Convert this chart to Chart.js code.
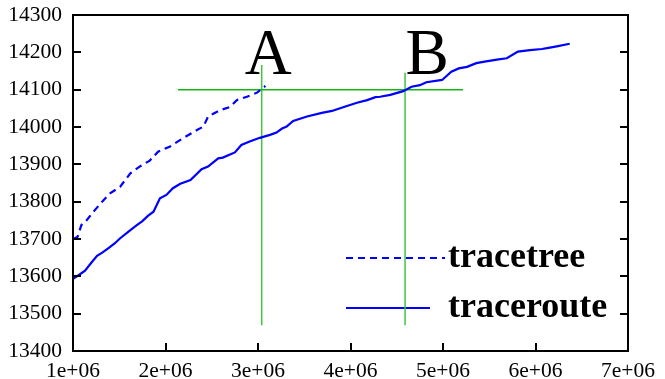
<!DOCTYPE html>
<html lang="en">
<head>
	<meta charset="UTF-8">
	<title>tracetree / traceroute</title>
	<script src="https://cdn.jsdelivr.net/npm/chart.js"></script>
	<style>
		html, body { margin: 0; padding: 0; background: #fff; }
	</style>
</head>
<body>
	<canvas id="myChart" width="665" height="379"></canvas>
	<script type="text/javascript">
		// tracetree (dashed), ends around 3e6
		const treeX = [1.00e6, 1.05e6, 1.09e6, 1.15e6, 1.22e6, 1.33e6, 1.40e6, 1.51e6, 1.62e6, 1.72e6, 1.83e6, 1.92e6,
			2.05e6, 2.19e6, 2.34e6, 2.41e6, 2.46e6, 2.59e6, 2.70e6, 2.77e6, 2.88e6, 2.99e6, 3.08e6];
		const treeY = [13699, 13706, 13737, 13751, 13773, 13804, 13822, 13840, 13876, 13894, 13910, 13934,
			13948, 13970, 13992, 14001, 14028, 14045, 14054, 14072, 14081, 14092, 14110];

		// traceroute (solid)
		const routeX = [1.00e6, 1.06e6, 1.13e6, 1.20e6, 1.26e6, 1.32e6, 1.38e6, 1.45e6, 1.51e6, 1.60e6, 1.69e6, 1.75e6,
			1.81e6, 1.87e6, 1.94e6, 2.01e6, 2.08e6, 2.16e6, 2.27e6, 2.39e6, 2.46e6, 2.57e6, 2.62e6, 2.75e6, 2.82e6,
			2.91e6, 3.02e6, 3.13e6, 3.20e6, 3.26e6, 3.31e6, 3.38e6, 3.53e6, 3.69e6, 3.80e6, 3.92e6, 4.07e6, 4.18e6,
			4.27e6, 4.32e6, 4.43e6, 4.57e6, 4.66e6, 4.75e6, 4.82e6, 4.99e6, 5.09e6, 5.17e6, 5.26e6, 5.36e6, 5.45e6,
			5.60e6, 5.69e6, 5.81e6, 5.94e6, 6.07e6, 6.14e6, 6.23e6, 6.37e6];
		const routeY = [13593, 13603, 13615, 13637, 13655, 13664, 13675, 13688, 13702, 13720, 13737, 13748,
			13762, 13773, 13809, 13818, 13836, 13848, 13858, 13887, 13894, 13916, 13918, 13932, 13952,
			13961, 13971, 13979, 13985, 13996, 14001, 14016, 14028, 14038, 14043, 14053, 14065, 14072,
			14080, 14081, 14086, 14096, 14108, 14112, 14120, 14126, 14148, 14157, 14161, 14171, 14175,
			14181, 14184, 14202, 14206, 14209, 14212, 14216, 14223];

		// green guide lines: the 14100 level and the two crossing points
		const levelY = 14100;
		const levelSpan = [2.135e6, 5.216e6];
		const cutX = [3.04e6, 4.59e6];
		const cutTop = [14166, 14145];
		const cutBottom = 13469;
		const cutNames = ['A', 'B'];
		const cutNameX = [3.11e6, 4.83e6];
		const cutNameY = 14142;

		// axes
		const xTicks = [1e6, 2e6, 3e6, 4e6, 5e6, 6e6, 7e6];
		const yTicks = [13400, 13500, 13600, 13700, 13800, 13900, 14000, 14100, 14200, 14300];

		const seriesNames = ['tracetree', 'traceroute'];

		const pts = (xs, ys) => xs.map((x, i) => ({ x: x, y: ys[i] }));
		const blue = '#0000ff';
		const green = '#10b810';
		const greenV = '#40c440';

		const datasets = [
			{ label: seriesNames[0], data: pts(treeX, treeY), borderColor: blue, borderWidth: 2.2, borderDash: [7, 5] },
			{ label: seriesNames[1], data: pts(routeX, routeY), borderColor: blue, borderWidth: 2.2 },
			{ label: 'level', data: pts(levelSpan, [levelY, levelY]), borderColor: green, borderWidth: 1.5 }
		];
		cutX.forEach((cx, i) => {
			datasets.push({ label: cutNames[i], data: pts([cx, cx], [cutBottom, cutTop[i]]), borderColor: greenV, borderWidth: 1.5 });
		});
		datasets.forEach(d => {
			d.showLine = true;
			d.pointRadius = 0;
			d.tension = 0;
			d.fill = false;
		});

		const serif = '"Liberation Serif", "DejaVu Serif", serif';

		// legend drawn under the data so the green line passes over it
		const legendPlugin = {
			id: 'legendInside',
			beforeDatasetsDraw(chart) {
				const { ctx, chartArea: a } = chart;
				ctx.save();
				ctx.strokeStyle = blue;
				ctx.lineWidth = 2.2;
				const rows = [a.top + 243, a.top + 293];
				const lens = [99, 84];
				rows.forEach((ry, i) => {
					ctx.setLineDash(i === 0 ? [7, 5] : []);
					ctx.beginPath();
					ctx.moveTo(a.left + 273, ry);
					ctx.lineTo(a.left + 273 + lens[i], ry);
					ctx.stroke();
				});
				ctx.setLineDash([]);
				ctx.fillStyle = '#000';
				ctx.font = 'bold 36px ' + serif;
				ctx.textAlign = 'left';
				ctx.textBaseline = 'alphabetic';
				rows.forEach((ry, i) => ctx.fillText(seriesNames[i], a.left + 375, ry + 8.5));
				ctx.restore();
			}
		};

		// frame with inward ticks, plus the A / B letters
		const framePlugin = {
			id: 'frame',
			afterDatasetsDraw(chart) {
				const { ctx, chartArea: a, scales } = chart;
				const x = scales.x, y = scales.y;
				ctx.save();
				ctx.strokeStyle = '#000';
				ctx.lineWidth = 2;
				ctx.strokeRect(a.left, a.top, a.right - a.left, a.bottom - a.top);
				ctx.beginPath();
				yTicks.forEach(v => {
					const py = Math.round(y.getPixelForValue(v));
					ctx.moveTo(a.left, py); ctx.lineTo(a.left + 8, py);
					ctx.moveTo(a.right, py); ctx.lineTo(a.right - 8, py);
				});
				xTicks.forEach(v => {
					const px = Math.round(x.getPixelForValue(v));
					ctx.moveTo(px, a.bottom); ctx.lineTo(px, a.bottom - 8);
				});
				ctx.stroke();

				ctx.fillStyle = '#000';
				ctx.font = '65px ' + serif;
				ctx.textAlign = 'center';
				ctx.textBaseline = 'alphabetic';
				cutNames.forEach((n, i) => {
					ctx.fillText(n, x.getPixelForValue(cutNameX[i]), y.getPixelForValue(cutNameY));
				});
				ctx.restore();
			}
		};

		const ctx = document.getElementById('myChart').getContext('2d');
		const myChart = new Chart(ctx, {
			type: 'scatter',
			data: { datasets: datasets },
			plugins: [legendPlugin, framePlugin],
			options: {
				responsive: false,
				animation: false,
				devicePixelRatio: 1,
				layout: { padding: { top: 15, right: 37, left: 0, bottom: 0 } },
				plugins: {
					legend: { display: false },
					tooltip: { enabled: false }
				},
				scales: {
					x: {
						type: 'linear',
						min: xTicks[0],
						max: xTicks[xTicks.length - 1],
						afterBuildTicks: s => { s.ticks = xTicks.map(v => ({ value: v })); },
						afterFit: s => { s.height = 28; s.paddingLeft = 0; s.paddingRight = 0; },
						grid: { display: false, drawTicks: false },
						border: { display: false },
						ticks: {
							padding: 7,
							color: '#000',
							font: { family: serif, size: 21.5 },
							maxRotation: 0,
							autoSkip: false,
							callback: v => (v / 1e6) + 'e+06'
						}
					},
					y: {
						min: yTicks[0],
						max: yTicks[yTicks.length - 1],
						afterBuildTicks: s => { s.ticks = yTicks.map(v => ({ value: v })); },
						afterFit: s => { s.width = 73; s.paddingTop = 0; s.paddingBottom = 0; },
						grid: { display: false, drawTicks: false },
						border: { display: false },
						ticks: {
							padding: 11,
							color: '#000',
							font: { family: serif, size: 21.5 },
							autoSkip: false,
							callback: v => String(v)
						}
					}
				}
			}
		});
	</script>
</body>
</html>
